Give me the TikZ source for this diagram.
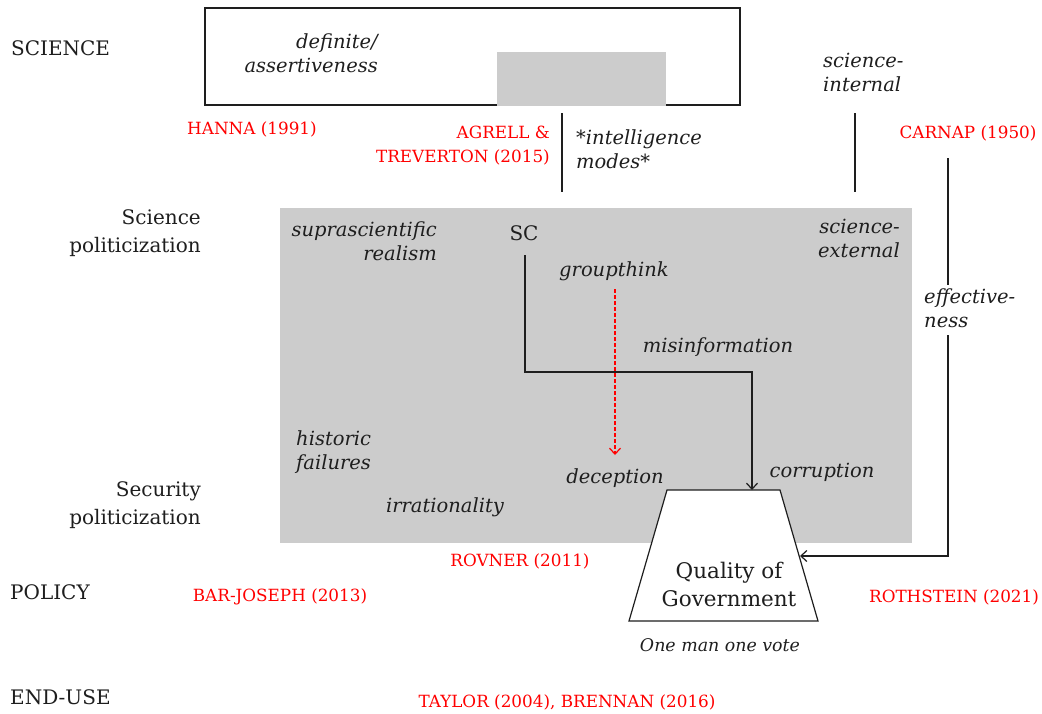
\documentclass[tikz,border=0pt]{standalone}
\usepackage{fontspec}
\setmainfont{DejaVu Serif}
\usetikzlibrary{arrows.meta}
\definecolor{boxgray}{RGB}{204,204,204}
\definecolor{ink}{RGB}{30,30,30}
\definecolor{refred}{RGB}{255,0,0}
\tikzset{
  lbl/.style={font=\fontsize{20}{28}\selectfont, text=ink, inner sep=0pt, align=left},
  ital/.style={font=\fontsize{19.5}{24}\selectfont\itshape, text=ink, inner sep=0pt},
  ref/.style={font=\fontsize{16.8}{24}\selectfont, text=refred, inner sep=0pt},
  conn/.style={draw=ink, line width=1.2pt},
  arr/.style={conn, -{Straight Barb[length=6pt,width=11pt]}},
}
\begin{document}
\begin{tikzpicture}[x=1pt,y=-1pt]
\useasboundingbox (0,0) rectangle (1042,713);
% shapes
\node[draw=ink, line width=1.2pt, minimum width=535pt, minimum height=97pt, inner sep=0pt] (topbox) at (472.5,56.5) {};
\fill[boxgray] (497,52) rectangle (666,105.6);
\node[fill=boxgray, minimum width=632pt, minimum height=335pt, inner sep=0pt] (graybox) at (596,375.5) {};
% trapezoid
\coordinate (tq1) at (667,490); \coordinate (tq2) at (780,490);
\coordinate (tq3) at (818,621); \coordinate (tq4) at (629,621);
\draw[fill=white, draw=ink, line width=1.2pt] (tq1) -- (tq2) -- (tq3) -- (tq4) -- cycle;
\node[font=\fontsize{21.5}{28}\selectfont, text=ink, align=center, inner sep=0pt] (qog) at (729,584) {Quality of\\Government};
\node[ital, font=\fontsize{17.4}{20}\selectfont\itshape] (omov) at (720,645) {One man one vote};
% left labels
\node[lbl, anchor=west] (science) at (11,48) {SCIENCE};
\node[lbl, anchor=east, align=right] (scipol) at (201,233) {Science\\politicization};
\node[lbl, anchor=east, align=right] (secpol) at (201,505) {Security\\politicization};
\node[lbl, anchor=west] (policy) at (10,592) {POLICY};
\node[lbl, anchor=west] (enduse) at (10,697) {END-USE};
% red refs
\node[ref] (hanna) at (252,129) {HANNA (1991)};
\node[ref, anchor=east, align=right] (agrell) at (550,146) {AGRELL \&\\TREVERTON (2015)};
\node[ref] (carnap) at (968,133) {CARNAP (1950)};
\node[ref] (rovner) at (520,561) {ROVNER (2011)};
\node[ref] (barjoseph) at (280,597) {BAR-JOSEPH (2013)};
\node[ref] (rothstein) at (954,597) {ROTHSTEIN (2021)};
\node[ref] (taylor) at (567,702) {TAYLOR (2004), BRENNAN (2016)};
% italic labels
\node[ital, align=right, anchor=east] (definite) at (378,53) {definite/\\assertiveness};
\node[ital, align=left, anchor=west] (scinternal) at (823,72) {science-\\internal};
\node[ital, align=left, anchor=west] (intmodes) at (576,149) {*intelligence\\modes*};
\node[ital, align=right, anchor=east] (supra) at (437,241) {suprascientific\\realism};
\node[ital, align=right, anchor=east] (sciext) at (900,238) {science-\\external};
\node[lbl, font=\fontsize{20}{24}\selectfont] (sc) at (524,233) {SC};
\node[ital] (groupthink) at (614,271) {groupthink};
\node[ital] (misinfo) at (718,347) {misinformation};
\node[ital, align=left, anchor=west] (historic) at (296,452) {historic\\failures};
\node[ital] (deception) at (615,478) {deception};
\node[ital] (corruption) at (822,472) {corruption};
\node[ital] (irrational) at (445,507) {irrationality};
\node[ital, align=left, anchor=west] (effect) at (924,308) {effective-\\ness};
% connectors
\coordinate (qtop) at (752,490);
\coordinate (qright) at (800,556);
\coordinate (sctail) at (525,255);
\coordinate (gttail) at (615,289);
\coordinate (gthead) at (615,455);
\draw[conn] (562,113) -- (562,192);
\draw[conn] (855,113) -- (855,192);
\draw[arr] (sctail) -- (525,372) -| (qtop);
\draw[conn] (948,158) -- (948,285);
\draw[arr] (948,335) |- (qright);
\draw[refred, line width=1.2pt, dash pattern=on 4pt off 2pt, -{Straight Barb[length=6pt,width=11pt]}] (gttail) -- (gthead);
\end{tikzpicture}
\end{document}
